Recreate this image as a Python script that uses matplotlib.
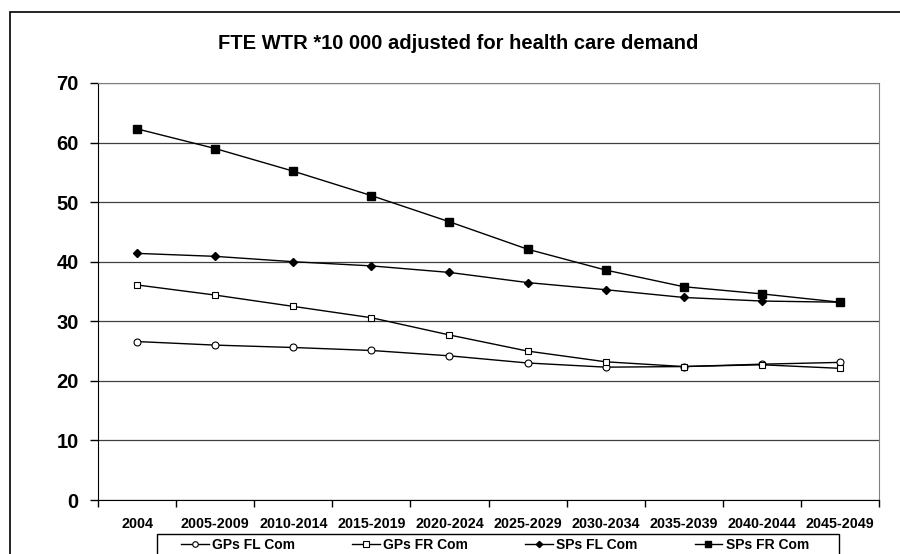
import matplotlib
matplotlib.use("Agg")
import matplotlib.pyplot as plt
from matplotlib.patches import Rectangle

plt.rcParams['font.family'] = ['Liberation Sans', 'DejaVu Sans']
plt.rcParams['font.weight'] = 'bold'

# DATA
periods = ["2004", "2005-2009", "2010-2014", "2015-2019", "2020-2024",
           "2025-2029", "2030-2034", "2035-2039", "2040-2044", "2045-2049"]
gps_fl_com = [26.6, 26.0, 25.6, 25.1, 24.2, 23.0, 22.3, 22.4, 22.8, 23.1]
gps_fr_com = [36.1, 34.4, 32.5, 30.6, 27.7, 25.0, 23.2, 22.4, 22.7, 22.1]
sps_fl_com = [41.4, 40.9, 40.0, 39.3, 38.2, 36.5, 35.3, 34.0, 33.4, 33.2]
sps_fr_com = [62.3, 59.0, 55.2, 51.1, 46.7, 42.1, 38.6, 35.8, 34.6, 33.2]
y_ticks = [0, 10, 20, 30, 40, 50, 60, 70]

# FIGURE AND PLOT AREA
fig = plt.figure(figsize=(9, 5.54), dpi=100)
fig.subplots_adjust(left=98/900, right=879/900, top=1-83/554, bottom=1-500/554)
ax = fig.add_subplot(111)

# outer chart frame (runs past the right and bottom edges)
fig.patches.append(Rectangle((10/900, -0.1), 1.0, 1.0 - 12/554 + 0.1,
                             transform=fig.transFigure, fill=False,
                             edgecolor='black', linewidth=1.2))
# legend frame (also cut by the bottom edge)
fig.patches.append(Rectangle((157/900, -0.1), (839-157)/900, 0.1 + 1 - 534/554,
                             transform=fig.transFigure, fill=False,
                             edgecolor='black', linewidth=1))

x = list(range(len(periods)))
ax.plot(x, gps_fl_com, color='black', lw=1, marker='o', ms=5,
        mfc='white', mec='black', mew=0.8, label='GPs FL Com', zorder=3)
ax.plot(x, gps_fr_com, color='black', lw=1, marker='s', ms=5,
        mfc='white', mec='black', mew=0.8, label='GPs FR Com', zorder=3)
ax.plot(x, sps_fl_com, color='black', lw=1, marker='D', ms=4,
        mfc='black', mec='black', label='SPs FL Com', zorder=3)
ax.plot(x, sps_fr_com, color='black', lw=1, marker='s', ms=5.5,
        mfc='black', mec='black', label='SPs FR Com', zorder=3)

# axes styling
ax.set_xlim(-0.5, len(periods) - 0.5)
ax.set_ylim(0, 70)
ax.set_yticks(y_ticks)
ax.set_yticklabels([str(v) for v in y_ticks], fontsize=14.5, fontweight='bold')
ax.tick_params(axis='y', length=6, width=1, pad=8, direction='out')
ax.set_xticks(x)
ax.set_xticklabels(periods, fontsize=10.3, fontweight='bold')
ax.set_xticks([i - 0.5 for i in range(len(periods) + 1)], minor=True)
ax.tick_params(axis='x', which='major', length=0, pad=12)
ax.tick_params(axis='x', which='minor', length=5, width=1, direction='out')

ax.yaxis.grid(True, color='#404040', linewidth=0.9)
ax.set_axisbelow(True)
ax.spines['left'].set_color('black')
ax.spines['bottom'].set_color('black')
ax.spines['top'].set_color('#808080')
ax.spines['right'].set_color('#808080')

ax.set_title("FTE WTR *10 000 adjusted for health care demand",
             fontsize=14.5, fontweight='bold', x=(458-98)/781, y=1.0, pad=24.5)

# legend entries at the bottom
leg = fig.legend(loc='upper left', ncol=4, mode='expand',
                 bbox_to_anchor=(181/900, -0.1, (809-181)/900, 0.1 + 1 - 538/554),
                 bbox_transform=fig.transFigure, borderaxespad=0,
                 frameon=False, prop={'weight': 'bold', 'size': 10},
                 handlelength=2.0, handletextpad=0.25, borderpad=0,
                 markerscale=0.8)

fig.savefig("out.png", dpi=100)
